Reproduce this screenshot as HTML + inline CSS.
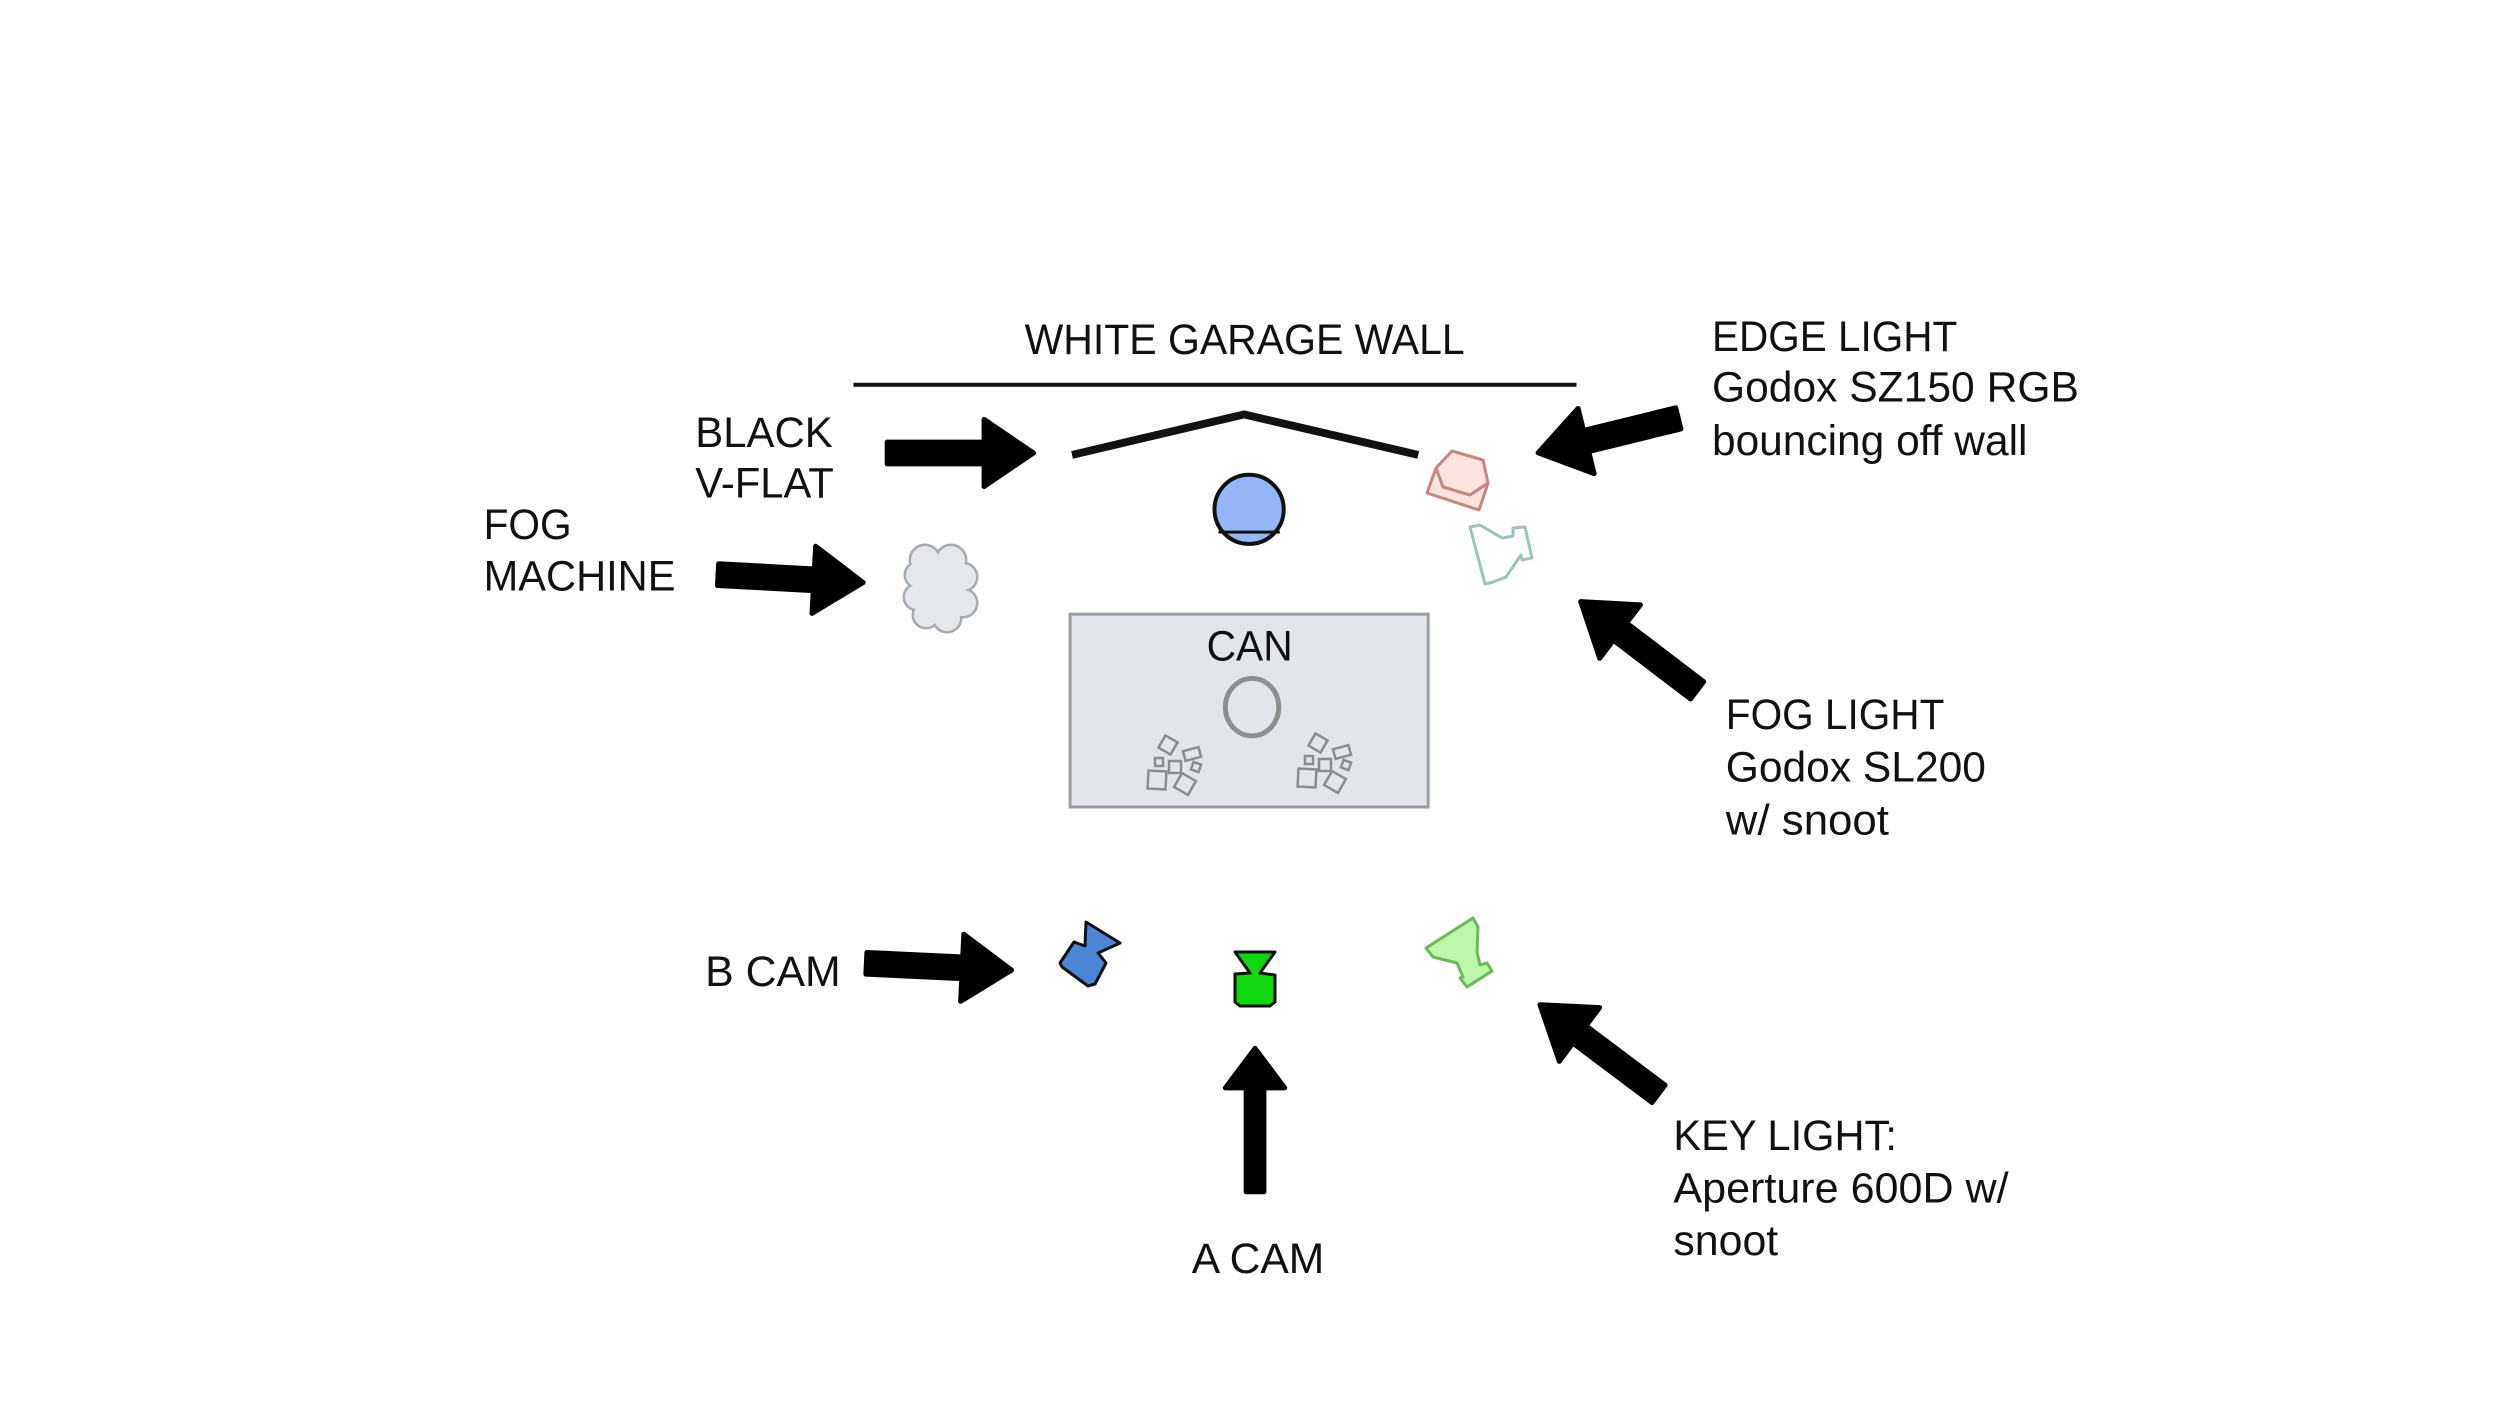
<!DOCTYPE html>
<html><head><meta charset="utf-8"><style>
html,body{margin:0;padding:0;background:#fff}
svg{display:block}
text{font-family:"Liberation Sans",sans-serif;font-size:43px;fill:#111}
</style></head><body>
<svg width="2500" height="1406" viewBox="0 0 2500 1406" xmlns="http://www.w3.org/2000/svg">
<defs>
<g id="rub" fill="none" stroke="#8a8d90" stroke-width="2.5">
<rect x="-7" y="-7" width="14" height="14" transform="translate(1318,743) rotate(30)"/>
<rect x="-8" y="-5" width="16" height="10" transform="translate(1342,752) rotate(-15)"/>
<rect x="-4" y="-4" width="8" height="8" transform="translate(1309,760)"/>
<rect x="-6" y="-6" width="12" height="12" transform="translate(1325,765)"/>
<rect x="-4" y="-4" width="8" height="8" transform="translate(1346,765) rotate(20)"/>
<rect x="-9" y="-9" width="18" height="18" transform="translate(1307,778) rotate(3)"/>
<rect x="-8" y="-8" width="16" height="16" transform="translate(1335,782) rotate(30)"/>
</g>
</defs>
<g transform="scale(0.989)">
<line x1="863" y1="389" x2="1594" y2="389" stroke="#111" stroke-width="4"/>
<text x="1036" y="358" textLength="445" lengthAdjust="spacingAndGlyphs">WHITE GARAGE WALL</text>
<polyline points="1084,460 1258,419 1434,460" fill="none" stroke="#111" stroke-width="8"/>
<circle cx="1263" cy="515" r="35" fill="#94b6f7" stroke="#111" stroke-width="4"/>
<line x1="1232" y1="538" x2="1294" y2="538" stroke="#111" stroke-width="3"/>
<rect x="1082" y="621" width="362" height="195" fill="#e2e6ea" stroke="#9a9c9e" stroke-width="3"/>
<text x="1220" y="668" textLength="87" lengthAdjust="spacingAndGlyphs">CAN</text>
<ellipse cx="1266" cy="715" rx="27" ry="29" fill="none" stroke="#8d8f91" stroke-width="5"/>

<g fill="#000" stroke="#000" stroke-width="5" stroke-linejoin="round">
<polygon transform="translate(897,458) rotate(0)" points="0,-11 98,-11 98,-34 148,0 98,34 98,11 0,11"/>
<polygon transform="translate(726,581) rotate(3.1)" points="0,-11 97,-11 97,-34 147,0 97,34 97,11 0,11"/>
<polygon transform="translate(1697,423) rotate(166.2)" points="0,-11 96,-11 96,-34 146,0 96,34 96,11 0,11"/>
<polygon transform="translate(1716,698) rotate(-142.7)" points="0,-11 98,-11 98,-34 148,0 98,34 98,11 0,11"/>
<polygon transform="translate(876,974) rotate(2.7)" points="0,-11 97,-11 97,-34 147,0 97,34 97,11 0,11"/>
<polygon transform="translate(1269,1205) rotate(-90)" points="0,-9 105,-9 105,-30 145,0 105,30 105,9 0,9"/>
<polygon transform="translate(1677,1106) rotate(-143.1)" points="0,-11 100,-11 100,-34 150,0 100,34 100,11 0,11"/>
</g>

<text x="703" y="452" textLength="139" lengthAdjust="spacingAndGlyphs">BLACK</text>
<text x="703" y="503" textLength="140" lengthAdjust="spacingAndGlyphs">V-FLAT</text>
<text x="489" y="545" textLength="89" lengthAdjust="spacingAndGlyphs">FOG</text>
<text x="489" y="597" textLength="194" lengthAdjust="spacingAndGlyphs">MACHINE</text>
<text x="1731" y="355" textLength="248" lengthAdjust="spacingAndGlyphs">EDGE LIGHT</text>
<text x="1731" y="406" textLength="371" lengthAdjust="spacingAndGlyphs">Godox SZ150 RGB</text>
<text x="1731" y="460" textLength="319" lengthAdjust="spacingAndGlyphs">bouncing off wall</text>
<text x="1745" y="737" textLength="221" lengthAdjust="spacingAndGlyphs">FOG LIGHT</text>
<text x="1745" y="790" textLength="263" lengthAdjust="spacingAndGlyphs">Godox SL200</text>
<text x="1745" y="844" textLength="165" lengthAdjust="spacingAndGlyphs">w/ snoot</text>
<text x="713" y="997" textLength="137" lengthAdjust="spacingAndGlyphs">B CAM</text>
<text x="1205" y="1287" textLength="134" lengthAdjust="spacingAndGlyphs">A CAM</text>
<text x="1692" y="1163" textLength="226" lengthAdjust="spacingAndGlyphs">KEY LIGHT:</text>
<text x="1692" y="1216" textLength="339" lengthAdjust="spacingAndGlyphs">Aperture 600D w/</text>
<text x="1692" y="1269" textLength="106" lengthAdjust="spacingAndGlyphs">snoot</text>
</g>

<!-- icons in true coordinates -->
<g stroke="#a8abae" stroke-width="5" fill="#a8abae">
<circle cx="925" cy="560" r="14"/><circle cx="951" cy="560" r="14"/><circle cx="963" cy="577" r="13"/><circle cx="963" cy="603" r="13"/><circle cx="947" cy="618" r="13"/><circle cx="926" cy="615" r="12"/><circle cx="917" cy="597" r="12"/><circle cx="918" cy="575" r="12"/><circle cx="941" cy="588" r="24"/>
</g>
<g fill="#e4e8ec">
<circle cx="925" cy="560" r="14"/><circle cx="951" cy="560" r="14"/><circle cx="963" cy="577" r="13"/><circle cx="963" cy="603" r="13"/><circle cx="947" cy="618" r="13"/><circle cx="926" cy="615" r="12"/><circle cx="917" cy="597" r="12"/><circle cx="918" cy="575" r="12"/><circle cx="941" cy="588" r="24"/>
</g>
<polygon points="1436,468 1427,493 1479,510 1488,483 1483,460 1452,451" fill="#fde3de" stroke="#c98680" stroke-width="3" stroke-linejoin="round"/>
<polyline points="1436,468 1443,487 1470,495 1488,483" fill="none" stroke="#c98680" stroke-width="3" stroke-linejoin="round"/>
<polygon points="1470,527 1480,525 1502,538 1513,536 1513,528 1525,527 1532,558 1522,560 1521,555 1506,577 1493,582 1485,584" fill="#fff" stroke="#9cc4bd" stroke-width="3" stroke-linejoin="round"/>
<use href="#rub"/>
<use href="#rub" transform="translate(-150,2)"/>
<polygon points="1086,922 1120,943 1098,953 1106,963 1095,984 1088,986 1062,967 1060,963 1074,942 1085,946" fill="#4c86d6" stroke="#111" stroke-width="3" stroke-linejoin="round"/>
<polygon points="1235,952 1275,952 1260,973 1275,975 1275,1002 1270,1006 1240,1006 1235,1002 1235,974 1250,973" fill="#0fd80f" stroke="#111" stroke-width="3" stroke-linejoin="round"/>
<polygon points="1473,918 1478,927 1477,952 1480,965 1487,963 1492,971 1467,987 1460,978 1463,977 1457,963 1433,957 1426,948" fill="#bdf7ab" stroke="#6cb95c" stroke-width="3" stroke-linejoin="round"/>
</svg>
</body></html>
